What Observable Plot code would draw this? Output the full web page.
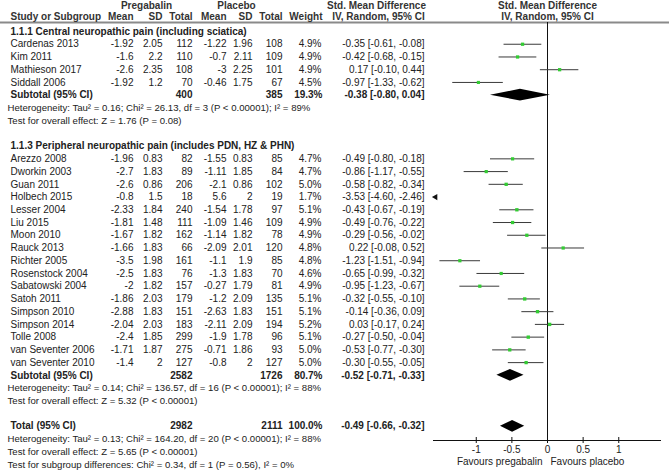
<!DOCTYPE html>
<html><head><meta charset="utf-8">
<script src="https://cdn.jsdelivr.net/npm/d3@7"></script>
<script src="https://cdn.jsdelivr.net/npm/@observablehq/plot@0.6"></script>
<style>body{margin:0;background:#fff} svg{display:block}</style>
</head><body><div id="chart"></div>
<script>
// ---------- data ----------
const groups = ["1.1.1 Central neuropathic pain (including sciatica)", "1.1.3 Peripheral neuropathic pain (includes PDN, HZ & PHN)"];
const studies = ["Cardenas 2013","Kim 2011","Mathieson 2017","Siddall 2006",
  "Arezzo 2008","Dworkin 2003","Guan 2011","Holbech 2015","Lesser 2004","Liu 2015","Moon 2010","Rauck 2013","Richter 2005","Rosenstock 2004","Sabatowski 2004","Satoh 2011","Simpson 2010","Simpson 2014","Tolle 2008","van Seventer 2006","van Seventer 2010"];
const studyGroup = [0,0,0,0, 1,1,1,1,1,1,1,1,1,1,1,1,1,1,1,1,1];
const pregMean = [-1.92,-1.6,-2.6,-1.92, -1.96,-2.7,-2.6,-0.8,-2.33,-1.81,-1.67,-1.66,-3.5,-2.5,-2,-1.86,-2.88,-2.04,-2.4,-1.71,-1.4];
const pregSD   = [2.05,2.2,2.35,1.2, 0.83,1.83,0.86,1.5,1.84,1.48,1.82,1.83,1.98,1.83,1.82,2.03,1.83,2.03,1.85,1.87,2];
const pregN    = [112,110,108,70, 82,89,206,18,240,111,162,66,161,76,157,179,151,183,299,275,127];
const plaMean  = [-1.22,-0.7,-3,-0.46, -1.55,-1.11,-2.1,5.6,-1.54,-1.09,-1.14,-2.09,-1.1,-1.3,-0.27,-1.2,-2.63,-2.11,-1.9,-0.71,-0.8];
const plaSD    = [1.96,2.11,2.25,1.75, 0.83,1.85,0.86,2,1.78,1.46,1.82,2.01,1.9,1.83,1.79,2.09,1.83,2.09,1.78,1.86,2];
const plaN     = [108,109,101,67, 85,84,102,19,97,109,78,120,85,70,81,135,151,194,96,93,127];
const weight   = [4.9,4.9,4.9,4.5, 4.7,4.7,5.0,1.7,5.1,4.9,4.9,4.8,4.8,4.6,4.9,5.1,5.1,5.2,5.1,5.0,5.0];
const smd      = [-0.35,-0.42,0.17,-0.97, -0.49,-0.86,-0.58,-3.53,-0.43,-0.49,-0.29,0.22,-1.23,-0.65,-0.95,-0.32,-0.14,0.03,-0.27,-0.53,-0.30];
const smdLo    = [-0.61,-0.68,-0.10,-1.33, -0.80,-1.17,-0.82,-4.60,-0.67,-0.76,-0.56,-0.08,-1.51,-0.99,-1.23,-0.55,-0.36,-0.17,-0.50,-0.77,-0.55];
const smdHi    = [-0.08,-0.15,0.44,-0.62, -0.18,-0.55,-0.34,-2.46,-0.19,-0.22,-0.02,0.52,-0.94,-0.32,-0.67,-0.10,0.09,0.24,-0.04,-0.30,-0.05];

const subPregN = [400, 2582];
const subPlaN  = [385, 1726];
const subWeight = [19.3, 80.7];
const subSmd = [-0.38, -0.52];
const subLo  = [-0.80, -0.71];
const subHi  = [0.04, -0.33];
const subHet = ["Heterogeneity: Tau\u00b2 = 0.16; Chi\u00b2 = 26.13, df = 3 (P < 0.00001); I\u00b2 = 89%",
                "Heterogeneity: Tau\u00b2 = 0.14; Chi\u00b2 = 136.57, df = 16 (P < 0.00001); I\u00b2 = 88%"];
const subTest = ["Test for overall effect: Z = 1.76 (P = 0.08)", "Test for overall effect: Z = 5.32 (P < 0.00001)"];

const totalPregN = 2982, totalPlaN = 2111, totalWeight = 100.0;
const totalSmd = -0.49, totalLo = -0.66, totalHi = -0.32;
const totalNotes = ["Heterogeneity: Tau\u00b2 = 0.13; Chi\u00b2 = 164.20, df = 20 (P < 0.00001); I\u00b2 = 88%",
  "Test for overall effect: Z = 5.65 (P < 0.00001)",
  "Test for subgroup differences: Chi\u00b2 = 0.34, df = 1 (P = 0.56), I\u00b2 = 0%"];

const headerTop = ["Pregabalin", "Placebo", "Std. Mean Difference", "Std. Mean Difference"];
const headerCols = ["Study or Subgroup", "Mean", "SD", "Total", "Mean", "SD", "Total", "Weight", "IV, Random, 95% CI", "IV, Random, 95% CI"];
const xTicks = [-1, -0.5, 0, 0.5, 1];
const favours = ["Favours pregabalin", "Favours placebo"];

// ---------- rows ----------
const rows = [];
let r = 0;
groups.forEach((g, gi) => {
  rows.push({r: r++, kind: "group", label: g});
  studies.forEach((s, i) => {
    if (studyGroup[i] !== gi) return;
    rows.push({r: r++, kind: "study", label: s, pm: pregMean[i], ps: pregSD[i], pn: pregN[i],
      qm: plaMean[i], qs: plaSD[i], qn: plaN[i], w: weight[i], smd: smd[i], lo: smdLo[i], hi: smdHi[i]});
  });
  rows.push({r: r++, kind: "summary", label: "Subtotal (95% CI)", pn: subPregN[gi], qn: subPlaN[gi], w: subWeight[gi], smd: subSmd[gi], lo: subLo[gi], hi: subHi[gi]});
  rows.push({r: r++, kind: "note", label: subHet[gi]});
  rows.push({r: r++, kind: "note", label: subTest[gi]});
  r++;
});
rows.push({r: r++, kind: "summary", label: "Total (95% CI)", pn: totalPregN, qn: totalPlaN, w: totalWeight, smd: totalSmd, lo: totalLo, hi: totalHi});
totalNotes.forEach(t => rows.push({r: r++, kind: "note", label: t}));

const studyRows = rows.filter(d => d.kind === "study");
const sumRows = rows.filter(d => d.kind === "summary");
const groupRows = rows.filter(d => d.kind === "group");
const noteRows = rows.filter(d => d.kind === "note");

const fmtCI = d => `${d.smd.toFixed(2)} [${d.lo.toFixed(2)}, ${d.hi.toFixed(2)}]`;
const fmtW = d => d.w.toFixed(1) + "%";

// ---------- layout ----------
const W = 669, H = 472, ML = 433, MR = 8, MT = 22, MB = 32;
const xDom = [-1.6, 1.6];
const rowH = 12.735, firstRowPx = 31;
const yDom = [(MT - firstRowPx) / rowH, (H - MB - firstRowPx) / rowH];
const INK = "#222";

const col = (data, text, xr, o = {}) => Plot.text(data, {
  y: "r", text, frameAnchor: "left", dx: xr - ML, textAnchor: "end", lineAnchor: "middle", fill: INK, ...o
});
const head = (labels, xs, anchors, dy) => labels.map((t, i) => Plot.text([t], {
  text: d => d, frameAnchor: "top-left", dx: xs[i] - ML, dy, textAnchor: anchors[i], lineAnchor: "middle",
  fontWeight: "bold", fill: "#333"
}));

const inRange = d => d.lo >= xDom[0] && d.hi <= xDom[1];
const diamonds = sumRows.flatMap((d, k) => [
  {id: k, x: d.lo, y1: d.r, y2: d.r},
  {id: k, x: d.smd, y1: d.r - 0.46, y2: d.r + 0.46},
  {id: k, x: d.hi, y1: d.r, y2: d.r}
]);

const chart = Plot.plot({
  width: W, height: H,
  marginLeft: ML, marginRight: MR, marginTop: MT, marginBottom: MB,
  style: {fontFamily: "'Liberation Sans', Arial, sans-serif", fontSize: "10px", color: INK, background: "#fff"},
  x: {domain: xDom, axis: null},
  y: {domain: yDom, reverse: true, axis: null},
  r: {type: "sqrt", domain: [0, 5.2], range: [0, 1.9]},
  marks: [
    // header line
    Plot.ruleY([yDom[0]], {stroke: "#8a8a8a", strokeWidth: 2, insetLeft: -ML, insetRight: -MR}),
    // null effect line
    Plot.ruleX([0], {stroke: "#111", strokeWidth: 1}),
    // axis
    Plot.ruleY([yDom[1]], {stroke: "#111", strokeWidth: 1}),
    Plot.ruleX(xTicks, {y1: yDom[1], y2: yDom[1], insetTop: -3, insetBottom: -3, stroke: "#111"}),
    Plot.axisX({ticks: xTicks, tickSize: 0, tickPadding: 5, tickFormat: d => String(d), fill: INK}),
    Plot.text([favours[0]], {x: 0, text: d => d, frameAnchor: "bottom", dy: 21, dx: -5, textAnchor: "end", lineAnchor: "middle", fill: INK}),
    Plot.text([favours[1]], {x: 0, text: d => d, frameAnchor: "bottom", dy: 21, dx: 3, textAnchor: "start", lineAnchor: "middle", fill: INK}),
    // CIs
    Plot.ruleY(studyRows.filter(inRange), {y: "r", x1: "lo", x2: "hi", stroke: "#3a3a3a", strokeWidth: 1}),
    Plot.dot(studyRows.filter(inRange), {x: "smd", y: "r", r: "w", symbol: "square", fill: "#33cc33", stroke: null}),
    Plot.dot(studyRows.filter(d => d.hi < xDom[0]), {x: () => xDom[0], y: "r", symbol: "triangle", rotate: -90, r: 2.3, dx: 2, fill: "#111", stroke: null}),
    Plot.areaY(diamonds, {x: "x", y1: "y1", y2: "y2", z: "id", fill: "#000", curve: "linear"}),
    // headers
    ...head(headerTop, [146, 236, 376, 547], ["middle", "middle", "middle", "middle"], -17),
    ...head(headerCols, [10, 133, 162, 192, 226, 252, 282, 322, 378, 547],
      ["start", "end", "end", "end", "end", "end", "end", "end", "middle", "middle"], -6),
    // group titles and notes
    col(groupRows, "label", 10, {textAnchor: "start", fontWeight: "bold"}),
    col(noteRows, "label", 7, {textAnchor: "start", fontSize: 9.6}),
    // study rows
    col(studyRows, "label", 10, {textAnchor: "start"}),
    col(studyRows, d => String(d.pm), 133),
    col(studyRows, d => String(d.ps), 162),
    col(studyRows, d => String(d.pn), 192),
    col(studyRows, d => String(d.qm), 226),
    col(studyRows, d => String(d.qs), 252),
    col(studyRows, d => String(d.qn), 282),
    col(studyRows, fmtW, 321),
    col(studyRows, fmtCI, 424),
    // summary rows
    col(sumRows, "label", 10, {textAnchor: "start", fontWeight: "bold"}),
    col(sumRows, d => String(d.pn), 192, {fontWeight: "bold"}),
    col(sumRows, d => String(d.qn), 282, {fontWeight: "bold"}),
    col(sumRows, fmtW, 322, {fontWeight: "bold"}),
    col(sumRows, fmtCI, 424, {fontWeight: "bold"})
  ]
});
document.getElementById("chart").appendChild(chart);
</script>
</body></html>
